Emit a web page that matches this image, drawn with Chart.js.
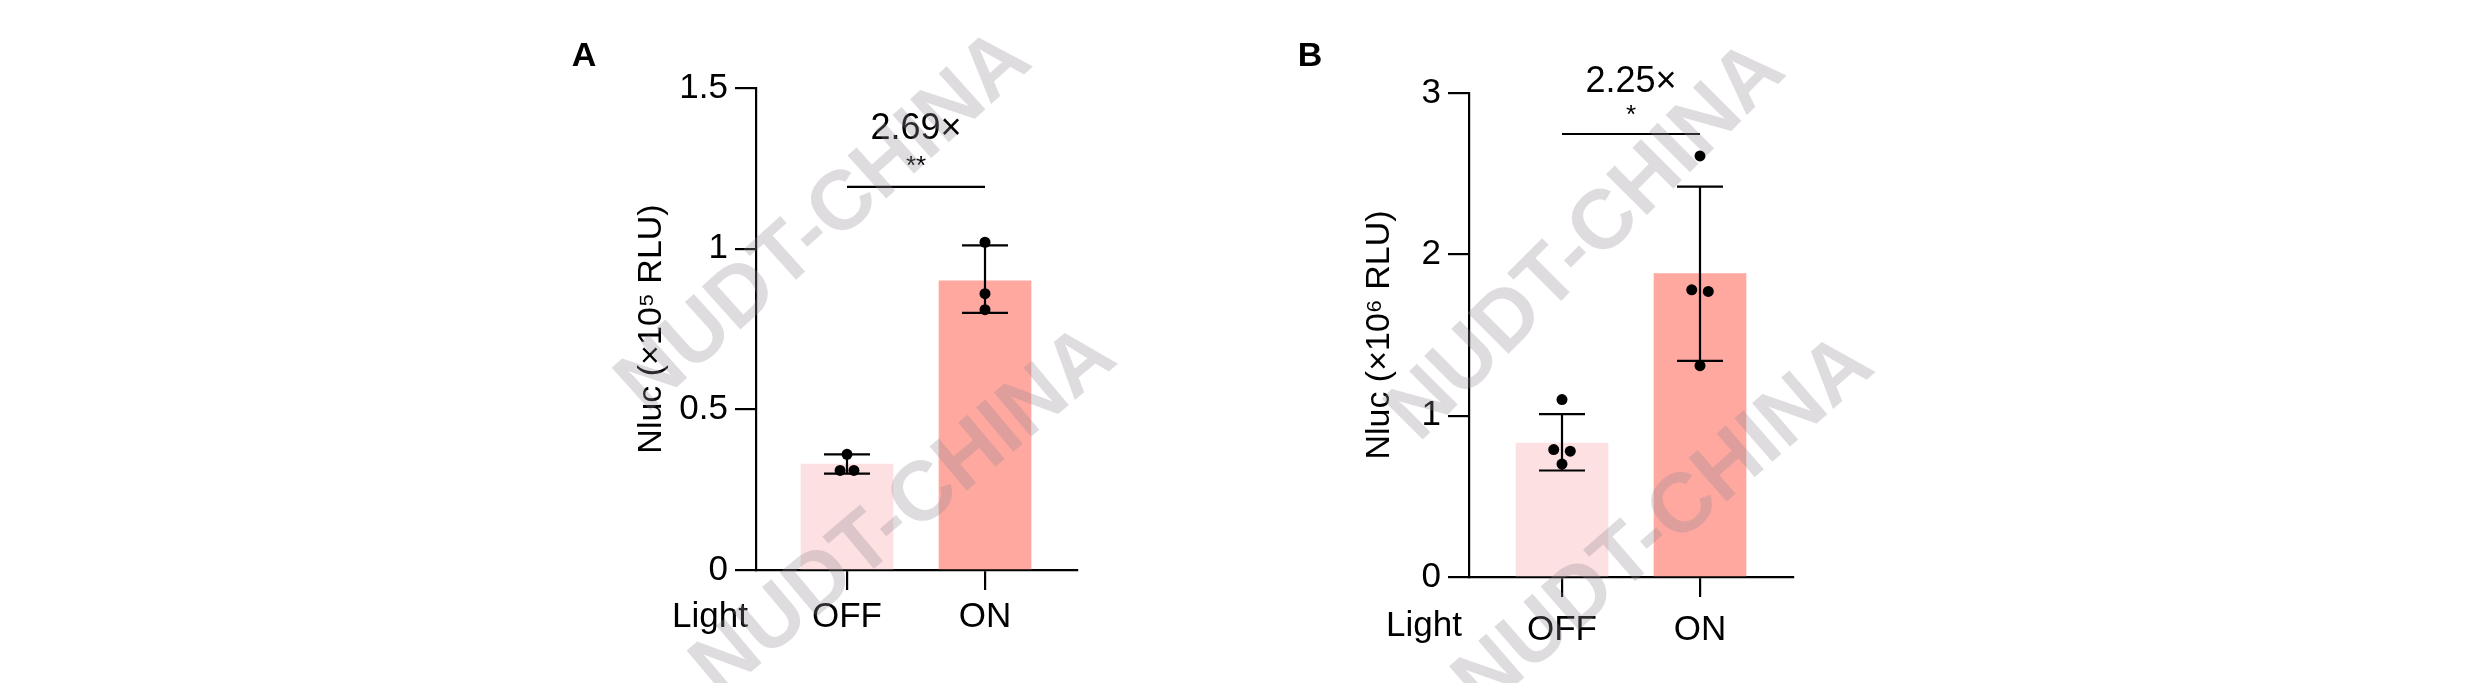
<!DOCTYPE html>
<html><head><meta charset="utf-8">
<script src="https://cdn.jsdelivr.net/npm/chart.js@4/dist/chart.umd.min.js"></script>
<style>
body{margin:0;width:2481px;height:683px;background:#fff;position:relative;overflow:hidden;font-family:"Liberation Sans",Arial,sans-serif}
canvas{position:absolute;top:0;left:0}
.wm{position:absolute;font:bold 84px "Liberation Sans",Arial,sans-serif;color:rgba(150,140,150,0.3);white-space:nowrap;transform-origin:center;pointer-events:none}
</style></head><body>
<canvas id="a"></canvas>
<canvas id="b"></canvas>
<div class="wm" style="left:560px;top:170px;transform:rotate(-42deg)">NUDT-CHINA</div>
<div class="wm" style="left:640px;top:460px;transform:rotate(-40deg)">NUDT-CHINA</div>
<div class="wm" style="left:1322px;top:190px;transform:rotate(-45deg)">NUDT-CHINA</div>
<div class="wm" style="left:1400px;top:472px;transform:rotate(-41deg)">NUDT-CHINA</div>
<script>
const categories = ["OFF","ON"];
const A_means = [0.33, 0.90];
const A_sdLow = [0.30, 0.80];
const A_sdHigh = [0.36, 1.01];
const A_points = [[0.36,0.31,0.31],[1.02,0.86,0.81]];
const A_ticks = [0,0.5,1,1.5];
const B_means = [0.83, 1.88];
const B_sdLow = [0.66, 1.34];
const B_sdHigh = [1.01, 2.42];
const B_points = [[1.10,0.79,0.78,0.70],[2.61,1.78,1.77,1.31]];
const B_ticks = [0,1,2,3];

const FONT='"Liberation Sans",Arial,sans-serif';
function makeChart(id, cfg){
  const pts=[];
  cfg.points.forEach((arr,i)=>arr.forEach((v,j)=>pts.push({x:i+1+(cfg.jit[i][j]||0), y:v})));
  const plugin={id:'extra',afterDatasetsDraw(ch){
    const c=ch.ctx,x=ch.scales.x,y=ch.scales.y;
    c.save();c.strokeStyle='#000';c.lineWidth=2.2;
    for(let i=0;i<2;i++){
      const px=x.getPixelForValue(i+1),lo=y.getPixelForValue(cfg.lo[i]),hi=y.getPixelForValue(cfg.hi[i]);
      c.beginPath();c.moveTo(px,lo);c.lineTo(px,hi);
      c.moveTo(px-23,lo);c.lineTo(px+23,lo);c.moveTo(px-23,hi);c.lineTo(px+23,hi);c.stroke();
    }
    const sy=y.getPixelForValue(cfg.sig);
    const x1=x.getPixelForValue(1),x2=x.getPixelForValue(2);
    c.beginPath();c.moveTo(x1,sy);c.lineTo(x2,sy);c.stroke();
    c.fillStyle='#000';c.textAlign='center';c.textBaseline='middle';
    c.font='36px '+FONT;c.fillText(cfg.fold,(x1+x2)/2,sy-cfg.foldOff);
    c.font='26px '+FONT;c.fillText(cfg.star,(x1+x2)/2,sy-cfg.starOff);
    c.font='bold 34px '+FONT;c.fillText(cfg.letter,cfg.letterX,57);
    c.font='35px '+FONT;c.textAlign='left';c.fillText('Light',cfg.lightX,cfg.lightY);
    c.save();c.translate(cfg.titleX,(y.top+y.bottom)/2);c.rotate(-Math.PI/2);c.textAlign='center';
    c.font='34px '+FONT;c.fillText(cfg.title,0,0);c.restore();
    c.restore();
  }};
  const cv=document.getElementById(id);cv.width=2481;cv.height=683;
  const w=cfg.right-cfg.axisX;
  return new Chart(cv,{
    type:'bar',
    data:{datasets:[
      {type:'scatter',data:pts,pointRadius:5.5,pointBackgroundColor:'#000',pointBorderWidth:0,order:0},
      {data:cfg.means.map((v,i)=>({x:i+1,y:v})),backgroundColor:['#fde0e1','#fea8a0'],barThickness:92,grouped:false,order:1}
    ]},
    options:{responsive:false,animation:false,devicePixelRatio:1,
      layout:{padding:{top:cfg.top,right:2481-cfg.right,left:cfg.axisX-cfg.axW,bottom:0}},
      plugins:{legend:{display:false},tooltip:{enabled:false}},
      scales:{
        x:{type:'linear',offset:false,min:1-(cfg.c1-cfg.axisX)/138,max:1-(cfg.c1-cfg.axisX)/138+w/138,
          afterBuildTicks(s){s.ticks=[{value:1},{value:2}];},
          afterFit(s){s.height=683-cfg.bottom;},
          ticks:{callback:(v)=>categories[v-1]||'',color:'#000',font:{size:35,family:FONT},padding:cfg.xpad,maxRotation:0,autoSkip:false},
          grid:{offset:false,drawOnChartArea:false,tickLength:20,color:'#000',lineWidth:2.2},
          border:{color:'#000',width:2.2}},
        y:{min:cfg.ymin,max:cfg.ymax,
          afterBuildTicks(s){s.ticks=cfg.ticks.map(v=>({value:v}));},
          afterFit(s){s.width=cfg.axW;},
          ticks:{callback:(v)=>String(v),color:'#000',font:{size:35,family:FONT},padding:7},
          grid:{drawOnChartArea:false,tickLength:21,color:'#000',lineWidth:2.2},
          border:{color:'#000',width:2.2}}
      }},
    plugins:[plugin]
  });
}
makeChart('a',{means:A_means,lo:A_sdLow,hi:A_sdHigh,points:A_points,ticks:A_ticks,
  jit:[[0,-0.05,0.05],[0,0,0]],
  ymin:0,ymax:1.5,top:88,bottom:570,axisX:756,axW:150,right:1077,c1:847,xpad:6,
  sig:1.192,fold:'2.69×',foldOff:58,starOff:20,star:'**',letter:'A',letterX:584,lightX:672,lightY:617,titleX:652,
  title:'Nluc (×10⁵ RLU)'});
makeChart('b',{means:B_means,lo:B_sdLow,hi:B_sdHigh,points:B_points,ticks:B_ticks,
  jit:[[0,-0.06,0.06,0],[0,-0.06,0.06,0]],
  ymin:0,ymax:3,top:93,bottom:577,axisX:1469,axW:150,right:1793,c1:1562,xpad:12,
  sig:2.746,fold:'2.25×',foldOff:52,starOff:18,star:'*',letter:'B',letterX:1310,lightX:1386,lightY:626,titleX:1380,
  title:'Nluc (×10⁶ RLU)'});
</script></body></html>
